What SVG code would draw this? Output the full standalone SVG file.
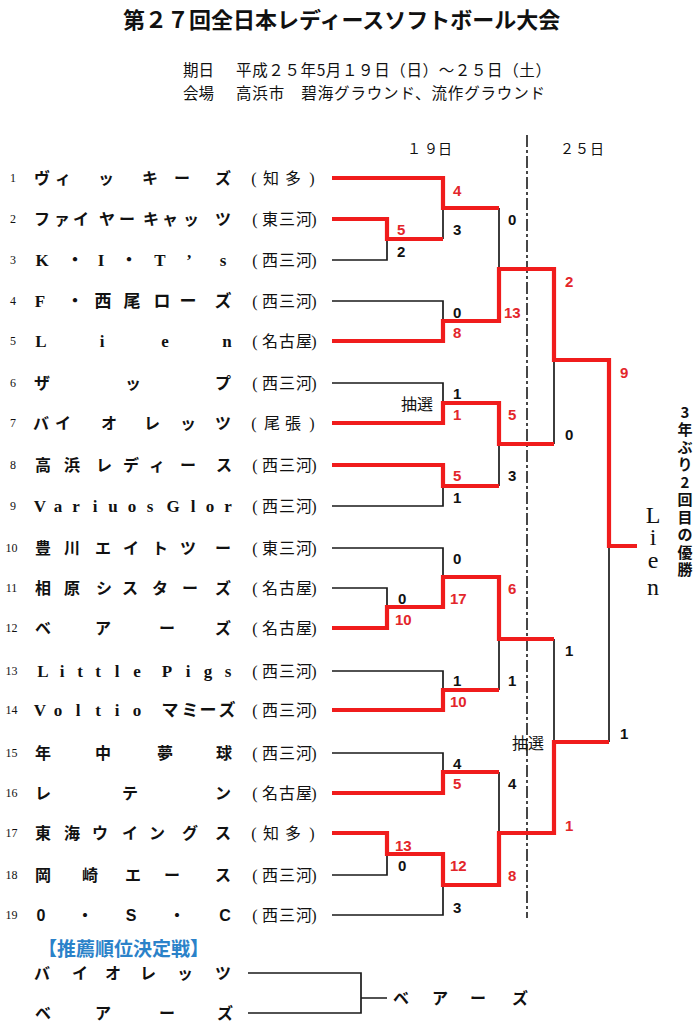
<svg xmlns="http://www.w3.org/2000/svg" width="700" height="1024" viewBox="0 0 700 1024">
<style>
text{font-family:"Noto Sans CJK JP",sans-serif;fill:#111}
.t{font-size:22px;font-weight:bold}
.s{font-size:15.5px}
.h{font-size:14px;text-anchor:middle}
.n{font-family:"Liberation Serif","Noto Sans CJK JP",serif;font-size:12px;text-anchor:middle}
.m{font-size:16px;font-weight:bold;text-anchor:middle}
.ml{font-family:"Liberation Serif","Noto Sans CJK JP",serif;font-size:17px;font-weight:bold;text-anchor:middle}
.ms{font-family:"Liberation Sans","Noto Sans CJK JP",sans-serif;font-size:16px;font-weight:bold;text-anchor:middle}
.g{font-family:"Liberation Serif","Noto Sans CJK JP",serif;font-size:16px;text-anchor:middle}
.sc{font-family:"Liberation Sans",Arial,sans-serif;font-size:15px;font-weight:bold}
.red{fill:#e3262b}
.lot{font-size:16px;text-anchor:middle}
.k{fill:none;stroke:#1a1a1a;stroke-width:1.7}
.r{fill:none;stroke:#f01c1c;stroke-width:4.2}
.blue{fill:#2b82c9;font-size:19px;font-weight:bold}
</style>
<rect width="700" height="1024" fill="#fff"/>

<g id="title">
<text class="t" x="123" y="28">第２７回全日本レディースソフトボール大会</text>
<text class="s" x="183" y="76">期日</text>
<text class="s" x="236" y="76" textLength="315">平成２５年5月１９日（日）～２５日（土）</text>
<text class="s" x="183" y="99">会場</text>
<text class="s" x="236" y="99" textLength="309">高浜市　碧海グラウンド、流作グラウンド</text>
</g>

<g id="headers">
<text class="h" x="414 431 445" y="154">１９日</text>
<text class="h" x="567 582 597" y="154">２５日</text>
</g>

<path id="divider" d="M527,135V918" fill="none" stroke="#1a1a1a" stroke-width="1.6" stroke-dasharray="12 3 3 3"/>

<g id="team1"><text class="n" x="13" y="182">1</text><text class="m" x="42 63 106 150 182 223" y="184">ヴィッキーズ</text><text class="g" x="254 271 293 312" y="184">(知多)</text></g>
<g id="team2"><text class="n" x="13" y="223">2</text><text class="m" x="42 62 81 107 127 151 170 191 223" y="225">ファイヤーキャッツ</text><text class="g" x="255 270 287 304 314" y="225">(東三河)</text></g>
<g id="team3"><text class="n" x="13" y="264">3</text><text class="ml" x="42 75 101 129 160 189 223" y="266">K・I・T’s</text><text class="g" x="255 270 287 304 314" y="266">(西三河)</text></g>
<g id="team4"><text class="n" x="13" y="305">4</text><text class="ml" x="40 75 103 132 162 188 223" y="307">F・西尾ローズ</text><text class="g" x="255 270 287 304 314" y="307">(西三河)</text></g>
<g id="team5"><text class="n" x="13" y="345">5</text><text class="ml" x="41 102 165 227" y="347">Lien</text><text class="g" x="255 270 287 304 314" y="347">(名古屋)</text></g>
<g id="team6"><text class="n" x="13" y="387">6</text><text class="m" x="42 133 223" y="389">ザップ</text><text class="g" x="255 270 287 304 314" y="389">(西三河)</text></g>
<g id="team7"><text class="n" x="13" y="427">7</text><text class="m" x="41 63 109 152 188 223" y="429">バイオレッツ</text><text class="g" x="254 272 293 312" y="429">(尾張)</text></g>
<g id="team8"><text class="n" x="13" y="469">8</text><text class="m" x="43 72 104 131 157 188 224" y="471">高浜レディース</text><text class="g" x="255 270 287 304 314" y="471">(西三河)</text></g>
<g id="team9"><text class="n" x="13" y="510">9</text><text class="ml" x="40 58 76 95 113 132 150 162 173 193 210 228" y="512">Variuos Glor</text><text class="g" x="255 270 287 304 314" y="512">(西三河)</text></g>
<g id="team10"><text class="n" x="11.5" y="552">10</text><text class="m" x="43 72 103 131 160 188 223" y="554">豊川エイトツー</text><text class="g" x="255 270 287 304 314" y="554">(東三河)</text></g>
<g id="team11"><text class="n" x="11.5" y="592">11</text><text class="m" x="43 72 104 130 160 190 223" y="594">相原シスターズ</text><text class="g" x="255 270 287 304 314" y="594">(名古屋)</text></g>
<g id="team12"><text class="n" x="11.5" y="632">12</text><text class="m" x="43 103 167 223" y="634">ベアーズ</text><text class="g" x="255 270 287 304 314" y="634">(名古屋)</text></g>
<g id="team13"><text class="n" x="11.5" y="675">13</text><text class="ml" x="43 62 80 98 117 137 152 167 188 208 228" y="677">Little Pigs</text><text class="g" x="255 270 287 304 314" y="677">(西三河)</text></g>
<g id="team14"><text class="n" x="11.5" y="714">14</text><text class="ml" x="40 58 78 98 117 137 152 170 190 208 227" y="716">Voltio マミーズ</text><text class="g" x="255 270 287 304 314" y="716">(西三河)</text></g>
<g id="team15"><text class="n" x="11.5" y="757">15</text><text class="m" x="43 103 165 224" y="759">年中夢球</text><text class="g" x="255 270 287 304 314" y="759">(西三河)</text></g>
<g id="team16"><text class="n" x="11.5" y="797">16</text><text class="m" x="43 130 223" y="799">レテン</text><text class="g" x="255 270 287 304 314" y="799">(名古屋)</text></g>
<g id="team17"><text class="n" x="11.5" y="837">17</text><text class="m" x="43 72 100 130 157 190 223" y="839">東海ウイングス</text><text class="g" x="254 271 293 312" y="839">(知多)</text></g>
<g id="team18"><text class="n" x="11.5" y="879">18</text><text class="m" x="43 90 133 172 223" y="881">岡崎エース</text><text class="g" x="255 270 287 304 314" y="881">(西三河)</text></g>
<g id="team19"><text class="n" x="11.5" y="919">19</text><text class="ms" x="41 85 131 177 225" y="921">0・S・C</text><text class="g" x="255 270 287 304 314" y="921">(西三河)</text></g>

<g id="connectors">
<g class="k">
<path d="M332,260H387V239"/>
<path d="M443,239V208"/>
<path d="M332,301H443V321"/>
<path d="M499,208V269"/>
<path d="M332,383H443V403"/>
<path d="M332,506H443V486"/>
<path d="M499,444V486"/>
<path d="M554,360V444"/>
<path d="M332,548H443V577"/>
<path d="M332,588H387V607"/>
<path d="M332,671H443V690"/>
<path d="M499,639V690"/>
<path d="M554,639V742"/>
<path d="M332,753H443V772"/>
<path d="M499,772V833"/>
<path d="M332,875H387V854"/>
<path d="M332,915H443V885"/>
<path d="M609,546V742"/>
</g>
<g class="r">
<path d="M332,178H443V208H499"/>
<path d="M332,219H387V239H443"/>
<path d="M332,341H443V321H499V269H554V360H609V546H637"/>
<path d="M332,423H443V403H499V444H554"/>
<path d="M332,465H443V486H499"/>
<path d="M332,628H387V607H443V577H499V639H554"/>
<path d="M332,710H443V690H499"/>
<path d="M332,793H443V772H499"/>
<path d="M332,833H387V854H443V885H499V833H554V742H609"/>
</g>
</g>

<g id="scores">
<text class="sc red" x="397" y="234.5">5</text>
<text class="sc" x="397" y="256.5">2</text>
<text class="sc" x="398" y="603.5">0</text>
<text class="sc red" x="395" y="624.5">10</text>
<text class="sc red" x="395" y="850.5">13</text>
<text class="sc" x="398" y="870.5">0</text>

<text class="sc red" x="453" y="195.5">4</text>
<text class="sc" x="453" y="234.5">3</text>
<text class="sc" x="453" y="317.5">0</text>
<text class="sc red" x="453" y="337.5">8</text>
<text class="sc" x="453" y="398.5">1</text>
<text class="lot" x="417" y="410">抽選</text>
<text class="sc red" x="453" y="419.5">1</text>
<text class="sc red" x="453" y="480.5">5</text>
<text class="sc" x="453" y="502.5">1</text>
<text class="sc" x="453" y="563.5">0</text>
<text class="sc red" x="450" y="603.5">17</text>
<text class="sc" x="453" y="685.5">1</text>
<text class="sc red" x="450" y="706.5">10</text>
<text class="sc" x="453" y="768.5">4</text>
<text class="sc red" x="453" y="788.5">5</text>
<text class="sc red" x="450" y="870.5">12</text>
<text class="sc" x="453" y="912.5">3</text>

<text class="sc" x="508" y="224.5">0</text>
<text class="sc red" x="504" y="317.5">13</text>
<text class="sc red" x="508" y="419.5">5</text>
<text class="sc" x="508" y="480.5">3</text>
<text class="sc red" x="508" y="593.5">6</text>
<text class="sc" x="508" y="685.5">1</text>
<text class="sc" x="508" y="788.5">4</text>
<text class="sc red" x="508" y="880.5">8</text>
<text class="lot" x="528" y="749">抽選</text>

<text class="sc red" x="565" y="286.5">2</text>
<text class="sc" x="565" y="439.5">0</text>
<text class="sc" x="565" y="655.5">1</text>
<text class="sc red" x="565" y="830.5">1</text>

<text class="sc red" x="620" y="377.5">9</text>
<text class="sc" x="620" y="738.5">1</text>
</g>

<g id="champion">
<text x="653 653 653 653" y="523 545 568 595" style="font-family:'Liberation Serif',serif;font-size:24px;text-anchor:middle">Lien</text>
<text x="685 685 685 685 685 685 685 685 685 685" y="417.5 435 452.5 470 487.5 505 522.5 540 557.5 575" style="font-size:15px;font-weight:bold;text-anchor:middle">3年ぶり2回目の優勝</text>
</g>

<g id="playoff">
<text class="blue" x="38" y="956">【推薦順位決定戦】</text>
<text class="m" x="42 80 113 148 185 223" y="979">バイオレッツ</text>
<text class="m" x="43 103 167 225" y="1019">ベアーズ</text>
<path class="k" d="M248,973H361V1013H248M361,998H387"/>
<text class="m" x="401 440 478 520" y="1004">ベアーズ</text>
</g>
</svg>
